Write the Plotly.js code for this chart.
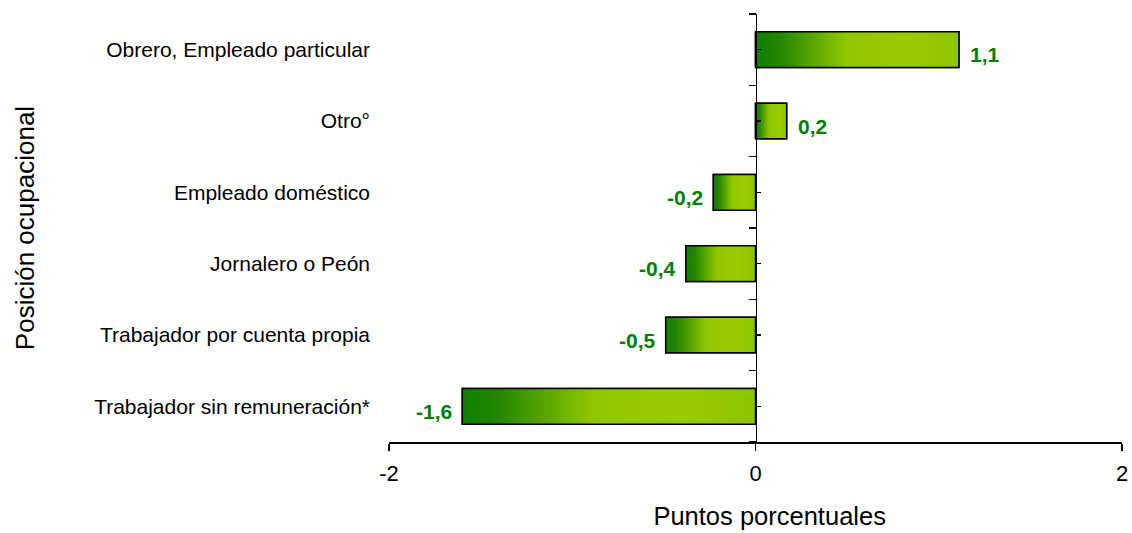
<!DOCTYPE html>
<html>
<head>
<meta charset="utf-8">
<script src="https://cdn.plot.ly/plotly-3.0.1.min.js"></script>
<style>html,body{margin:0;padding:0;background:#fff}#chart{width:1132px;height:533px}</style>
</head>
<body>
<div id="chart"></div>
<script>
const categories = ["Trabajador sin remuneración*", "Trabajador por cuenta propia", "Jornalero o Peón", "Empleado doméstico", "Otro°", "Obrero, Empleado particular"];
const values = [-1.60, -0.49, -0.38, -0.23, 0.17, 1.11];
const valueLabels = ["-1,6", "-0,5", "-0,4", "-0,2", "0,2", "1,1"];
const xTickVals = [-2, 0, 2];
const xTickText = ["-2", "0", "2"];

const FONT = "Liberation Sans, Arial, sans-serif";
const idx = categories.map((c, i) => i);
const boundaries = [-0.5].concat(idx.map(i => i + 0.5));
const half = 0.25;
const gradient = [[0, "#0f7f00"], [0.12, "#228600"], [0.45, "#92c700"], [0.75, "#99cc00"], [1, "#8ec400"]];

const traces = [{
  type: "bar", orientation: "h", x: values, y: idx, yaxis: "y", width: 2 * half,
  marker: {color: "#8cc400", line: {color: "#000", width: 1.5}},
  hoverinfo: "skip", showlegend: false
}];
values.forEach((v, i) => {
  traces.push({
    type: "scatter", mode: "lines", yaxis: "y2",
    x: [0, v, v, 0, 0],
    y: [i - half, i - half, i + half, i + half, i - half],
    fill: "toself",
    fillgradient: {type: "horizontal", colorscale: gradient},
    line: {color: "#000", width: 1.5},
    hoverinfo: "skip", showlegend: false
  });
});

const annotations = values.map((v, i) => ({
  x: v, y: i, xref: "x", yref: "y2", text: "<b>" + valueLabels[i] + "</b>",
  showarrow: false, xanchor: v >= 0 ? "left" : "right", yanchor: "middle",
  xshift: v >= 0 ? 9 : -8, yshift: -5,
  font: {family: FONT, size: 21, color: "#008000"}
}));

const layout = {
  width: 1132, height: 533,
  margin: {l: 389, r: 10, t: 14, b: 91},
  paper_bgcolor: "#fff", plot_bgcolor: "#fff",
  font: {family: FONT, color: "#000"},
  showlegend: false,
  xaxis: {
    domain: [0, 1], range: [-2, 2], tickmode: "array", tickvals: xTickVals, ticktext: xTickText,
    ticks: "outside", ticklen: 7, tickwidth: 1.5, tickcolor: "#000",
    showline: true, linecolor: "#000", linewidth: 1.5, zeroline: false, showgrid: false,
    tickfont: {family: FONT, size: 22, color: "#000"}, ticklabelstandoff: 4,
    title: {text: "&nbsp;&nbsp;&nbsp;&nbsp;Puntos porcentuales", font: {family: FONT, size: 25.5, color: "#000"}, standoff: 22},
    fixedrange: true
  },
  yaxis: {
    range: [-0.5, 5.5], tickmode: "array", tickvals: idx, ticktext: categories,
    ticks: "", showline: false, zeroline: false, showgrid: false,
    tickfont: {family: FONT, size: 21, color: "#000"}, ticklabelstandoff: 18,
    title: {text: "Posición ocupacional", font: {family: FONT, size: 26, color: "#000"}, standoff: 52},
    fixedrange: true
  },
  yaxis2: {
    overlaying: "y", anchor: "free", position: 0.5, side: "left",
    range: [-0.5, 5.5], tickmode: "array", tickvals: boundaries,
    ticks: "outside", ticklen: 7, tickwidth: 1.5, tickcolor: "#000",
    showticklabels: false, showline: true, linecolor: "#000", linewidth: 1.5,
    zeroline: false, showgrid: false,
    minor: {tickmode: "array", tickvals: idx, ticks: "inside", ticklen: 4, tickwidth: 1.5, tickcolor: "#000", showgrid: false},
    fixedrange: true
  },
  annotations: annotations
};

Plotly.newPlot("chart", traces, layout, {displayModeBar: false, staticPlot: true});
</script>
</body>
</html>
